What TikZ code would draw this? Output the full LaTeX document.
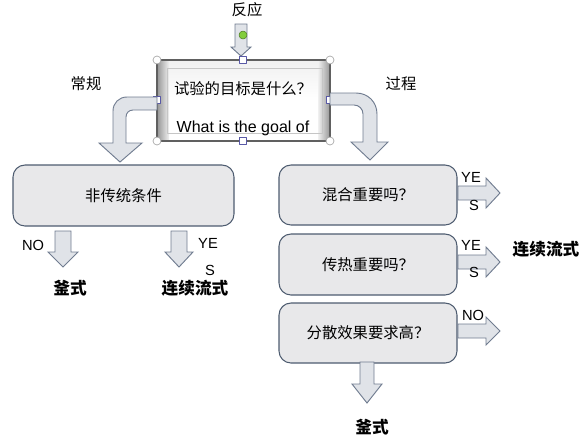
\documentclass[tikz,border=0pt]{standalone}
\usepackage{fontspec}
\setmainfont{Liberation Sans}
\newfontfamily\cjk{Noto Sans CJK SC}
\usepackage{tikz}
\usepackage{xcolor}
\definecolor{boxfill}{RGB}{232,232,234}
\definecolor{boxline}{RGB}{78,92,112}
\definecolor{arrowfill}{RGB}{224,227,232}
\definecolor{arrowline}{RGB}{112,124,144}
\definecolor{grip}{RGB}{130,205,60}
\definecolor{bevel}{RGB}{150,150,150}
\definecolor{facelight}{RGB}{240,240,240}
% block arrows: centre, top, neck, tip, half shaft, half head
\newcommand{\dnarrow}[6]{\draw[blockarrow] ({#1-#5},#2) -- ({#1+#5},#2) -- ({#1+#5},#3) -- ({#1+#6},#3) -- (#1,#4) -- ({#1-#6},#3) -- ({#1-#5},#3) -- cycle;}
\newcommand{\rtarrow}[6]{\draw[blockarrow] (#2,{#1-#5}) -- (#3,{#1-#5}) -- (#3,{#1-#6}) -- (#4,#1) -- (#3,{#1+#6}) -- (#3,{#1+#5}) -- (#2,{#1+#5}) -- cycle;}
\tikzset{
  qbox/.style={draw=boxline,fill=boxfill,line width=0.8pt,rounded corners=9pt,
    font=\cjk\fontsize{11.5}{13}\selectfont},
  blockarrow/.style={draw=arrowline,fill=arrowfill,line width=0.7pt,line join=miter},
  cnlabel/.style={font=\cjk\fontsize{11.5}{13}\selectfont,inner sep=0pt},
  cnbold/.style={font=\cjk\bfseries\fontsize{12.5}{14}\selectfont,inner sep=0pt},
  enlabel/.style={font=\fontsize{11}{12}\selectfont,inner sep=0pt},
  ringgrip/.style={circle,draw=gray!70,fill=white,line width=0.5pt,minimum size=6pt,inner sep=0pt},
  sqgrip/.style={rectangle,draw=gray!70!blue,fill=white,line width=0.5pt,minimum size=5pt,inner sep=0pt}
}

\begin{document}
\begin{tikzpicture}[x=0.75pt,y=-0.75pt,line join=round]
\useasboundingbox (0,0) rectangle (582,440);

% top question
\node[cnlabel] (react) at (247,10) {反应};
\dnarrow{241}{24}{47}{56}{6}{10}
\shade[top color=facelight,bottom color=white,middle color=white] (157,60) rectangle (330,141);
\shade[left color=bevel,right color=facelight] (157,60) rectangle (169,141);
\shade[left color=facelight,right color=bevel] (318,60) rectangle (330,141);
\draw[gray!75!black,line width=0.8pt] (157,60) rectangle (330,141);
\draw[gray!45,line width=0.4pt] (167,68) rectangle (322,133);
\node[cnlabel] (goalcn) at (243,89) {试验的目标是什么？};
\node[enlabel,font=\fontsize{12}{14}\selectfont] (goalen) at (243,128) {What is the goal of};
\node[ringgrip] (g1) at (157,60) {};
\node[ringgrip] (g2) at (330,60) {};
\node[ringgrip] (g3) at (157,141) {};
\node[ringgrip] (g4) at (330,141) {};
\node[sqgrip] (s1) at (243,60) {};
\node[sqgrip] (s2) at (243,141) {};
\node[sqgrip] (s3) at (157,100) {};
\node[sqgrip] (s4) at (330,100) {};
\node[circle,fill=grip,draw=grip!60!black,line width=0.4pt,minimum size=6pt,inner sep=0pt] (rot) at (243,35) {};

% two branches
\node[cnlabel] (usual) at (86,84) {常规};
\node[cnlabel] (process) at (401,84) {过程};
\draw[blockarrow] (157,97) -- (127,97) .. controls (119,97) and (113,103) .. (113,111) -- (113,143)
  -- (99,143) -- (120,162) -- (142,143) -- (126,143) -- (126,117)
  .. controls (126,113) and (129,110) .. (133,110) -- (157,110) -- cycle;
\draw[blockarrow] (330,93) -- (356,93) .. controls (368,93) and (377,102) .. (377,114) -- (377,142)
  -- (388,142) -- (370,160) -- (351,142) -- (363,142) -- (363,114)
  .. controls (363,109) and (359,105) .. (354,105) -- (330,105) -- cycle;
\node[qbox,minimum width=165.75pt,minimum height=45.75pt] (nontrad) at (123.5,195.5) {非传统条件};
\dnarrow{63}{231}{252}{267}{8}{15}
\dnarrow{179}{231}{252}{267}{8}{14}
\node[enlabel] (no1) at (33,245) {NO};
\node[enlabel] (ye1) at (208,243) {YE};
\node[enlabel] (s1t) at (210,270) {S};
\node[cnbold] (batch1) at (70,288) {釜式};
\node[cnbold] (flow1) at (195,288) {连续流式};

% process questions
\node[qbox,minimum width=133.5pt,minimum height=45pt] (mix) at (368,195) {混合重要吗？};
\node[qbox,minimum width=133.5pt,minimum height=45.75pt] (heat) at (368,264.5) {传热重要吗？};
\node[qbox,minimum width=133.5pt,minimum height=45pt] (disp) at (368,333) {分散效果要求高？};
\rtarrow{193}{458}{486}{500}{7}{15}
\rtarrow{262}{458}{486}{500}{7}{15}
\rtarrow{331}{458}{486}{500}{7}{14}
\node[enlabel] (ye2) at (471,177) {YE};
\node[enlabel] (s2t) at (474,205) {S};
\node[enlabel] (ye3) at (471,245) {YE};
\node[enlabel] (s3t) at (474,272) {S};
\node[enlabel] (no2) at (473,315) {NO};
\node[cnbold] (flow2) at (546,249) {连续流式};
\dnarrow{367}{362}{384}{403}{7}{15}
\node[cnbold] (batch2) at (372,427) {釜式};
\end{tikzpicture}
\end{document}
